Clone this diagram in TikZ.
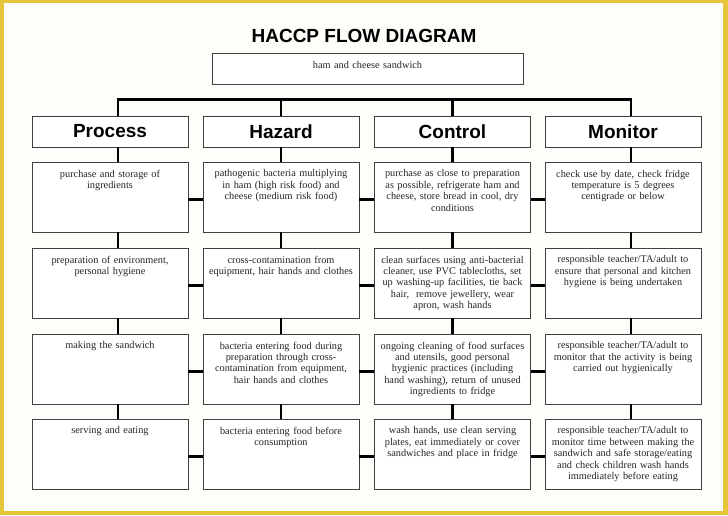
\documentclass[tikz,border=0pt]{standalone}
\usepackage{fontspec}
\setmainfont{Liberation Serif}
\newfontfamily\hdrfont{Liberation Sans}
\definecolor{frameyellow}{RGB}{229,198,58}
\definecolor{paper}{RGB}{253,253,250}
\begin{document}
\begin{tikzpicture}[x=1pt,y=-1pt,
  cell/.style={draw=black!75, line width=0.9pt, fill=white, minimum width=156pt, minimum height=70pt, inner sep=0pt},
  hd/.style={cell, minimum height=31pt, font=\hdrfont\bfseries\fontsize{19}{22}\selectfont},
  txt/.style={anchor=north, inner xsep=0pt, inner ysep=8pt, text width=156pt, align=center, font=\fontsize{10.3}{11.4}\selectfont, text=black!85},
  conn/.style={line width=2.8pt}]
\useasboundingbox (0,0) rectangle (728,515);
\fill[frameyellow] (0,0) rectangle (728,515);
\fill[paper] (4,3) rectangle (723,511);

\node[font=\hdrfont\bfseries\fontsize{19}{22}\selectfont] (title) at (364,36) {HACCP FLOW DIAGRAM};
\node[cell, minimum width=311pt, minimum height=31pt] (top) at (367.5,68.5) {};
\node[txt, inner ysep=8.5pt] at (top.north) {ham and cheese sandwich};

% headers
\node[hd] (ph) at (110,131.5) {Process};
\node[hd] (hh) at (281,131.5) {Hazard};
\node[hd] (ch) at (452.5,131.5) {Control};
\node[hd] (mh) at (623,131.5) {Monitor};

% row 1
\node[cell] (p1) at (110,197) {};
\node[cell] (h1) at (281,197) {};
\node[cell] (c1) at (452.5,197) {};
\node[cell] (m1) at (623,197) {};
\node[txt] at (p1.north) {purchase and storage of\\ingredients};
\node[txt] at (h1.north) {pathogenic bacteria multiplying\\in ham (high risk food) and\\cheese (medium risk food)};
\node[txt] at (c1.north) {purchase as close to preparation\\as possible, refrigerate ham and\\cheese, store bread in cool, dry\\conditions};
\node[txt] at (m1.north) {check use by date, check fridge\\temperature is 5 degrees\\centigrade or below};

% row 2
\node[cell] (p2) at (110,283) {};
\node[cell] (h2) at (281,283) {};
\node[cell] (c2) at (452.5,283) {};
\node[cell] (m2) at (623,283) {};
\node[txt] at (p2.north) {preparation of environment,\\personal hygiene};
\node[txt] at (h2.north) {cross-contamination from\\equipment, hair hands and clothes};
\node[txt] at (c2.north) {clean surfaces using anti-bacterial\\cleaner, use PVC tablecloths, set\\up washing-up facilities, tie back\\hair,\ \ remove jewellery, wear\\apron, wash hands};
\node[txt] at (m2.north) {responsible teacher/TA/adult to\\ensure that personal and kitchen\\hygiene is being undertaken};

% row 3
\node[cell] (p3) at (110,369) {};
\node[cell] (h3) at (281,369) {};
\node[cell] (c3) at (452.5,369) {};
\node[cell] (m3) at (623,369) {};
\node[txt] at (p3.north) {making the sandwich};
\node[txt] at (h3.north) {bacteria entering food during\\preparation through cross-\\contamination from equipment,\\hair hands and clothes};
\node[txt] at (c3.north) {ongoing cleaning of food surfaces\\and utensils, good personal\\hygienic practices (including\\hand washing), return of unused\\ingredients to fridge};
\node[txt] at (m3.north) {responsible teacher/TA/adult to\\monitor that the activity is being\\carried out hygienically};

% row 4
\node[cell] (p4) at (110,454) {};
\node[cell] (h4) at (281,454) {};
\node[cell] (c4) at (452.5,454) {};
\node[cell] (m4) at (623,454) {};
\node[txt] at (p4.north) {serving and eating};
\node[txt] at (h4.north) {bacteria entering food before\\consumption};
\node[txt] at (c4.north) {wash hands, use clean serving\\plates, eat immediately or cover\\sandwiches and place in fridge};
\node[txt] at (m4.north) {responsible teacher/TA/adult to\\monitor time between making the\\sandwich and safe storage/eating\\and check children wash hands\\immediately before eating};

% top bar
\draw[conn] ([xshift=8pt]ph.north) -- ++(0,-16) -| ([xshift=8pt]mh.north);
\draw[conn] (hh.north) -- ++(0,-16);
\draw[conn] (ch.north) -- ++(0,-16);

% vertical connectors
\foreach \a/\b in {ph/p1,p1/p2,p2/p3,p3/p4,mh/m1,m1/m2,m2/m3,m3/m4}
  \draw[conn] ([xshift=8pt]\a.south) -- ([xshift=8pt]\b.north);
\foreach \a/\b in {hh/h1,h1/h2,h2/h3,h3/h4,ch/c1,c1/c2,c2/c3,c3/c4}
  \draw[conn] (\a.south) -- (\b.north);

% horizontal connectors
\foreach \r in {1,2,3,4}{
  \draw[conn] ([yshift=-2.5pt]p\r.east) -- ([yshift=-2.5pt]h\r.west);
  \draw[conn] ([yshift=-2.5pt]h\r.east) -- ([yshift=-2.5pt]c\r.west);
  \draw[conn] ([yshift=-2.5pt]c\r.east) -- ([yshift=-2.5pt]m\r.west);
}
\end{tikzpicture}
\end{document}
